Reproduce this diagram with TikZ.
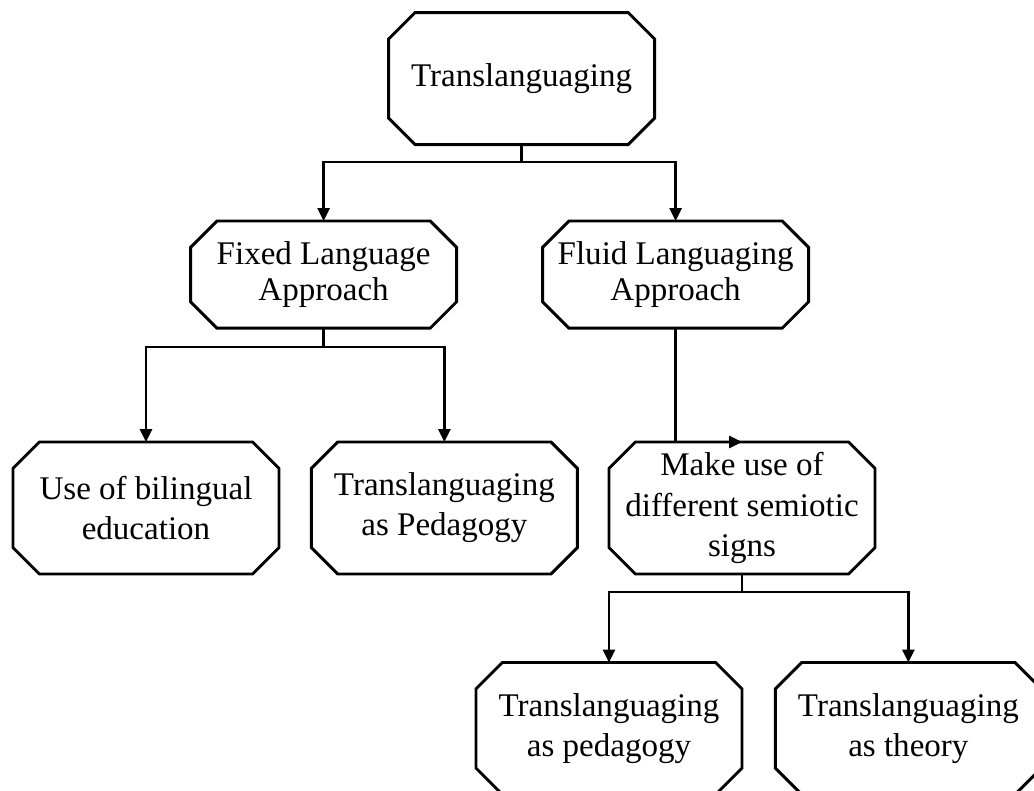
\documentclass[tikz,border=0pt]{standalone}
\usepackage{fontspec}
\setmainfont{Liberation Serif}
\usetikzlibrary{arrows.meta,positioning}

\newcommand{\cf}{0.66cm}

\tikzset{
  octbox/.style={rectangle, outer sep=0pt, inner sep=0pt,
    minimum width=6.65cm, minimum height=3.3cm,
    align=center, font=\fontsize{23.5}{28.5}\selectfont},
  flatbox/.style={octbox, minimum height=2.68cm, font=\fontsize{23.5}{25}\selectfont},
  octline/.style={line width=2.1pt, line join=miter},
  link/.style={line width=1.8pt},
  arr/.style={link, -{Triangle[length=3.2mm,width=3mm]}}
}

\begin{document}
\begin{tikzpicture}
    \useasboundingbox (0,0) rectangle (25.85,19.775);
    \clip (0,0) rectangle (25.85,19.775);
    \node[octbox] (trans) at (13.04,17.81) {Translanguaging};
    \node[flatbox] (fixed) at (8.09,12.91) {Fixed Language\\Approach};
    \node[flatbox] (fluid) at (16.89,12.91) {Fluid Languaging\\Approach};
    \node[octbox] (biling) at (3.65,7.075) {Use of bilingual\\education};
    \node[octbox] (pedag) at (11.11,7.075) {Translanguaging\\as Pedagogy};
    \node[octbox] (semio) at (18.55,7.075) {Make use of\\different semiotic\\signs};
    \node[octbox] (pedlow) at (15.225,1.5625) {Translanguaging\\as pedagogy};
    \node[octbox] (theory) at (22.71,1.5625) {Translanguaging\\as theory};
    % octagon outlines
    \foreach \n in {trans,fixed,fluid,biling,pedag,semio,pedlow,theory} {
      \draw[octline] ([xshift=\cf]\n.north west) -- ([xshift=-\cf]\n.north east)
        -- ([yshift=-\cf]\n.north east) -- ([yshift=\cf]\n.south east)
        -- ([xshift=-\cf]\n.south east) -- ([xshift=\cf]\n.south west)
        -- ([yshift=\cf]\n.south west) -- ([yshift=-\cf]\n.north west) -- cycle;
    }
    % branch points
    \coordinate (j1) at (13.04,15.725);
    \coordinate (j2) at (8.09,11.1);
    \coordinate (j3) at (18.55,4.975);
    \draw[link] (trans.south) -- (j1);
    \draw[arr] (j1) -| (fixed.north);
    \draw[arr] (j1) -| (fluid.north);
    \draw[link] (fixed.south) -- (j2);
    \draw[arr] (j2) -| (biling.north);
    \draw[arr] (j2) -| (pedag.north);
    \draw[arr] (fluid.south) |- (semio.north);
    \draw[link] (semio.south) -- (j3);
    \draw[arr] (j3) -| (pedlow.north);
    \draw[arr] (j3) -| (theory.north);
\end{tikzpicture}
\end{document}
